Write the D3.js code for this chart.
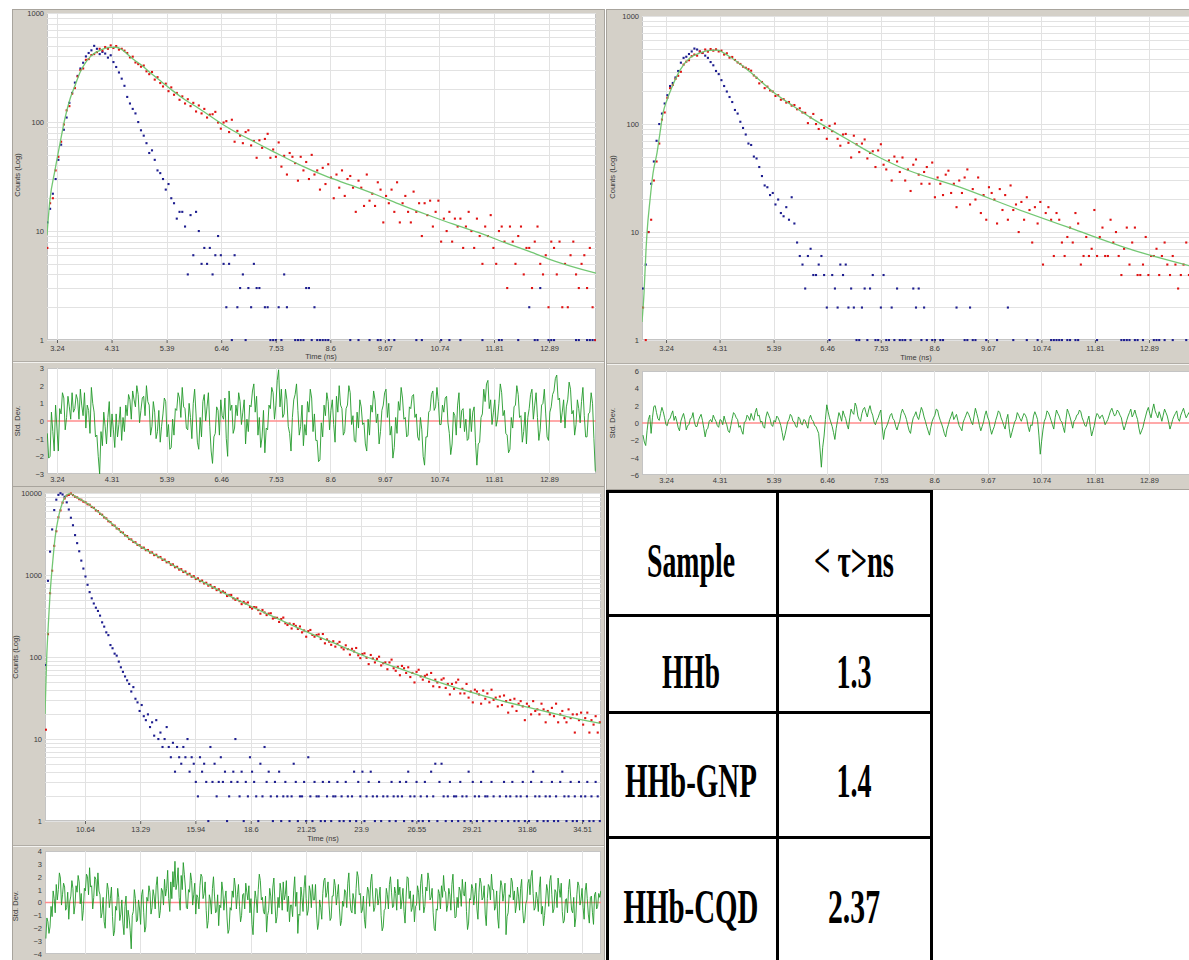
<!DOCTYPE html>
<html>
<head>
<meta charset="utf-8">
<script src="https://cdn.jsdelivr.net/npm/d3@7"></script>
<style>
  html, body { margin: 0; padding: 0; background: #ffffff; }
  svg { display: block; }
</style>
</head>
<body>
<svg id="fig" width="1189" height="960"></svg>
<script>
// ---------------- tick labels ----------------
const shortTicks = [3.24, 4.31, 5.39, 6.46, 7.53, 8.6, 9.67, 10.74, 11.81, 12.89];
const longTicks = [10.64, 13.29, 15.94, 18.6, 21.25, 23.9, 26.55, 29.21, 31.86, 34.51];
const decades3 = [1, 10, 100, 1000];
const decades4 = [1, 10, 100, 1000, 10000];
const resTicks3 = [-3, -2, -1, 0, 1, 2, 3];
const resTicks6 = [-6, -4, -2, 0, 2, 4, 6];
const resTicks4 = [-4, -3, -2, -1, 0, 1, 2, 3, 4];

// ---------------- HHb decay (channel start / width in ns) ----------------
const hhbT0 = 3.05, hhbDt = 0.054;
const hhbSample = [
  7, 18, 20, 36, 48, 66, 95, 128, 140, 182,
  205, 262, 300, 310, 372, 378, 412, 420, 438, 470,
  452, 488, 470, 505, 478, 498, 462, 470, 452, 430,
  392, 398, 352, 340, 322, 330, 292, 275, 288, 245,
  258, 228, 212, 225, 192, 208, 178, 185, 160, 172,
  148, 162, 140, 150, 125, 142, 120, 132, 110, 117,
  118, 124, 99, 87, 99, 102, 81, 105, 66, 83,
  75, 64, 81, 84, 61, 67, 47, 68, 58, 70,
  78, 47, 56, 48, 65, 39, 49, 33, 52, 48,
  42, 29, 48, 36, 43, 30, 50, 33, 36, 24,
  38, 27, 41, 31, 20, 33, 25, 36, 21, 30,
  32, 25, 15, 29, 25, 17, 33, 19, 22, 17,
  28, 24, 12, 21, 18, 24, 15, 28, 12, 18,
  21, 15, 12, 23, 15, 18, 9, 18, 14, 19,
  11, 15, 19, 8, 13, 10, 15, 8, 13, 11,
  13, 7, 11, 15, 10, 7, 13, 9, 5, 11,
  9, 14, 7, 5, 10, 11, 8, 3, 11, 8,
  5, 9, 11, 4, 7, 7, 3, 8, 11, 5,
  4, 6, 2, 8, 7, 4, 8, 2, 5, 2,
  6, 8, 4, 3, 5, 6, 3, 7, 2, 1
];
const hhbPrompt = [
  12, 16, 22, 30, 45, 62, 85, 110, 150, 185,
  230, 265, 310, 350, 400, 430, 455, 500, 470, 420,
  440, 425, 390, 410, 355, 320, 285, 250, 215, 170,
  148, 132, 120, 100, 84, 75, 64, 52, 55, 45,
  36, 34, 30, 24, 27, 20, 18, 13, 15, 15,
  11, 4, 14, 6, 15, 10, 5, 7, 5, 7,
  4, 6, 9, 6, 5, 2, 5, 1, 6, 2,
  3, 4, 1, 3, 2, 5, 3, 3, 0, 2,
  2, 1, 1, 1, 2, 1, 4, 2, 0, 0,
  1, 1, 1, 1, 3, 3, 1, 2, 1, 1,
  1, 1, 1, 0, 0, 0, 0, 0, 0, 0,
  1, 0, 0, 1, 0, 0, 0, 1, 0, 0,
  1, 1, 0, 0, 1, 0, 1, 0, 0, 0,
  0, 0, 0, 0, 1, 0, 1, 0, 0, 0,
  0, 0, 0, 1, 0, 0, 1, 0, 0, 0,
  1, 0, 0, 0, 0, 0, 0, 0, 1, 0,
  0, 0, 0, 0, 1, 1, 0, 0, 0, 0,
  0, 1, 0, 0, 0, 2, 0, 1, 1, 3,
  0, 0, 1, 1, 1, 0, 0, 0, 0, 0,
  0, 0, 1, 1, 0, 0, 1, 1, 1, 1
];
const hhbFitT = [3.044, 3.10, 3.20, 3.30, 3.40, 3.50, 3.60, 3.70, 3.80, 3.90, 4.00, 4.10, 4.20, 4.30, 4.40,
  4.50, 4.60, 4.75, 4.90, 5.10, 5.30, 5.50, 5.75, 6.00, 6.25, 6.50, 6.75, 7.00, 7.50, 8.00, 8.50,
  9.00, 9.50, 10.00, 10.50, 11.00, 11.50, 12.00, 12.50, 13.00, 13.81];
const hhbFitC = [9.2, 19, 36, 64, 110, 165, 220, 290, 350, 400, 435, 458, 475, 483, 485,
  465, 427, 372, 332, 275, 232, 195, 160, 135, 113, 94.5, 80.5, 70, 53, 40.5, 32,
  26.3, 21.5, 17.3, 14.1, 11.6, 9.7, 7.9, 6.5, 5.3, 4.1];
// weighted residuals, half-channel spacing
const hhbResT0 = 3.05, hhbResDt = 0.027;
const hhbResid = [
  -0.7, -2.1, -2.0, 0.5, -0.6, -1.7, 0.9, -0.4, -1.7, 0.7, 0.4, 1.6, 1.3, -0.5, 0.2, 1.4, 0.8, 0.1, 1.6, 0.5,
  0.7, 1.5, 1.2, 0.1, 1.8, 0.9, 0.3, 1.6, -0.4, 0.9, 0.6, -0.7, 1.9, 1.0, 0.5, -0.9, -0.8, -2.0, -3.0, -0.6,
  -1.4, 0.5, -0.3, -1.3, 0.2, 1.1, -0.9, 0.4, -0.5, -1.5, 0.4, -0.9, -0.2, 0.8, -1.1, 0.2, -0.6, 0.9, 0.3, 1.5,
  1.2, 0.1, 1.7, 1.2, 0.8, 2.0, 1.5, -0.1, 0.6, 1.3, 1.4, 0.3, 2.0, 1.1, 0.9, -0.8, -0.3, 1.1, 0.5, -1.0,
  -0.6, 0.6, -1.2, -0.3, 0.4, 1.3, 1.1, -0.9, -0.2, -1.6, -1.5, 0.1, -0.8, 0.7, 0.6, 1.6, 1.3, 0.2, 1.9, 0.8,
  0.7, -0.4, -0.5, 1.0, 0.2, -1.0, 1.0, 1.8, 0.4, -1.2, -1.6, 0.2, -0.9, 1.1, 1.5, 0.0, 0.8, 1.6, -0.3, -1.7,
  -2.4, -0.9, -0.7, 0.8, 0.6, -0.8, 1.2, 0.3, 0.1, 1.3, -1.0, -2.0, 1.7, 0.6, 0.9, -0.7, -0.4, 0.9, 0.3, 1.6,
  1.1, -0.2, 0.5, 1.2, -1.3, 0.1, -0.6, 0.9, 0.8, 1.7, 2.1, 0.5, 1.4, -0.8, 0.2, -1.5, -0.9, 0.6, -1.8, -0.4,
  -0.5, 0.9, 0.7, 1.9, 1.6, 0.1, 0.9, 2.3, 2.9, 0.8, 1.8, 0.2, 0.4, 1.8, 1.2, -0.3, -0.7, -1.7, 0.2, 1.2,
  1.5, 2.1, 0.6, -0.8, -0.3, 0.9, -1.4, -0.2, -0.8, 1.1, 0.5, 1.8, 1.3, -0.6, 0.4, -1.1, -1.1, -2.3, -2.2, -0.1,
  -0.9, 0.9, 0.3, 1.6, 1.1, -0.5, 0.6, 1.2, -0.2, -1.2, 1.4, 0.5, 2.0, 0.9, 0.7, -0.8, -0.6, 0.7, 0.9, 2.0,
  1.6, -0.2, 0.3, -1.1, -1.2, 0.5, -0.4, 1.2, 0.8, -0.2, -0.1, -1.3, -1.7, 0.1, -0.8, 0.9, 0.5, 1.7, 1.2, -0.1,
  0.4, -1.3, -0.6, 0.6, 0.9, 1.6, 1.8, 0.2, 1.0, -0.8, -0.3, -2.1, -1.5, 0.2, -0.7, 1.1, 0.6, 1.9, 1.3, 0.1,
  0.2, -0.9, -0.8, 0.8, 0.7, 1.4, 1.5, 0.2, 0.4, -0.9, -1.1, 0.2, -0.5, -2.0, -2.5, -0.9, -0.9, 0.5, 0.6, 1.5,
  1.7, 0.6, 0.8, 1.9, 1.1, -0.2, -0.2, 0.9, 0.5, 1.3, 1.4, -0.1, -0.7, -1.9, -1.3, 0.5, 0.3, -0.8, 0.9, 1.6,
  -0.4, 0.6, 0.7, -0.6, 0.1, -1.1, -1.0, 0.7, -0.6, 0.5, 0.8, -1.2, -2.5, -1.3, -1.2, 0.2, 0.4, 1.8, 1.1, 2.1,
  2.3, 0.7, 1.2, -0.2, 0.5, 1.2, -0.3, 0.1, 1.0, 2.1, 1.6, 0.3, 0.6, -0.7, -0.8, -1.8, -1.6, 0.2, -0.4, 0.8,
  0.9, 2.0, 1.5, 0.2, 0.3, -1.2, -0.6, 0.5, -1.3, 0.2, 0.7, 1.5, 1.8, 0.1, 0.9, 1.6, 0.2, -1.1, -0.5, 0.9,
  1.0, 1.8, 0.4, -0.9, -1.1, 0.5, 0.8, 1.5, 1.7, 2.4, 2.6, 1.2, 1.3, -0.1, 0.5, 1.2, -0.4, 0.8, 1.2, 2.2,
  1.8, 0.4, 0.6, -0.8, -0.2, 1.2, 0.7, -0.1, 1.1, 1.9, 0.3, -0.9, -0.9, 0.4, 0.5, 1.6, 1.0, -1.0, -2.8, -2.9
];

// ---------------- HHb-GNP decay ----------------
const gnpT0 = 2.78, gnpDt = 0.054;
const gnpSample = [
  2, 1, 10, 13, 30, 45, 66, 110, 128, 175,
  215, 230, 262, 280, 305, 355, 378, 390, 425, 440,
  430, 470, 455, 490, 468, 495, 478, 492, 470, 478,
  440, 452, 412, 418, 392, 372, 360, 340, 332, 322,
  312, 282, 268, 238, 245, 215, 222, 205, 200, 182,
  185, 168, 170, 158, 160, 148, 150, 137, 140, 128,
  127, 102, 115, 124, 100, 90, 109, 92, 73, 96,
  86, 101, 73, 63, 80, 81, 67, 49, 78, 65,
  55, 66, 72, 48, 54, 56, 40, 57, 65, 42,
  38, 46, 30, 50, 45, 36, 49, 30, 38, 24,
  42, 47, 34, 28, 36, 40, 28, 44, 21, 32,
  28, 22, 34, 37, 23, 28, 17, 30, 23, 32,
  38, 18, 25, 20, 32, 15, 22, 13, 26, 23,
  20, 12, 25, 16, 22, 13, 27, 16, 18, 10,
  19, 13, 21, 16, 8, 17, 12, 19, 5, 15,
  17, 13, 6, 15, 13, 8, 6, 9, 11, 8,
  15, 12, 5, 6, 9, 6, 7, 16, 6, 9,
  11, 6, 6, 13, 8, 10, 6, 4, 7, 11,
  5, 8, 11, 4, 4, 5, 9, 4, 6, 6,
  7, 4, 6, 8, 5, 4, 6, 5, 3, 4,
  5, 8, 4
];
const gnpPrompt = [
  3, 5, 10, 28, 45, 70, 100, 125, 155, 185,
  225, 240, 270, 310, 370, 410, 420, 445, 470, 500,
  490, 470, 455, 430, 410, 375, 350, 310, 290, 255,
  225, 200, 178, 160, 135, 125, 105, 92, 80, 66,
  64, 50, 48, 40, 33, 27, 26, 22, 23, 18,
  20, 15, 14, 17, 13, 21, 12, 8, 6, 5,
  3, 6, 7, 4, 4, 5, 6, 4, 2, 1,
  4, 3, 2, 5, 4, 5, 2, 3, 2, 1,
  1, 2, 3, 1, 3, 4, 1, 1, 2, 4,
  1, 1, 2, 1, 3, 1, 1, 1, 0, 1,
  3, 2, 3, 1, 2, 1, 0, 1, 1, 0,
  1, 1, 0, 0, 0, 0, 2, 0, 0, 1,
  1, 2, 1, 1, 0, 0, 0, 1, 0, 0,
  0, 1, 0, 0, 0, 2, 0, 1, 0, 0,
  0, 0, 1, 0, 0, 0, 1, 0, 0, 0,
  0, 1, 1, 1, 1, 1, 0, 1, 1, 0,
  1, 1, 0, 0, 0, 0, 0, 0, 1, 0,
  0, 0, 0, 0, 0, 0, 0, 1, 1, 1,
  1, 0, 1, 1, 0, 1, 0, 0, 0, 1,
  1, 1, 0, 1, 0, 0, 1, 0, 0, 0,
  0, 1, 0
];
const gnpFitT = [2.76, 2.80, 2.84, 2.86, 2.92, 2.98, 3.06, 3.12, 3.18, 3.26, 3.36, 3.52, 3.72, 3.92,
  4.12, 4.26, 4.46, 4.72, 5.06, 5.38, 5.78, 6.18, 6.58, 6.98, 7.38, 7.91, 9.11, 10.23, 11.41, 12.57, 13.83];
const gnpFitC = [1.47, 2.7, 6.8, 9.8, 19.8, 35, 54, 83, 126, 167, 220, 315, 410, 455,
  480, 483, 435, 359, 267, 198, 147, 111, 86, 67, 52.5, 40, 26, 16.5, 10.5, 6.8, 4.7];
const gnpResT0 = 2.78, gnpResDt = 0.027;
const gnpResid = [
  -1.4, -2.2, -2.6, -0.9, 0.4, 0.9, -1.2, 0.6, 1.9, 2.0, 1.2, 0.5, 0.3, 1.1, 1.8, 1.3, 0.6, -0.2, -0.3, 0.4,
  0.5, 1.0, 1.4, 0.3, 0.8, 0.2, -0.5, -0.9, 0.2, 0.7, 1.1, 0.4, -0.8, -0.3, -0.2, 0.5, 0.6, 1.2, 0.1, -0.4,
  -0.4, 0.3, 0.7, 1.0, 0.3, -0.6, -1.6, -0.8, -0.6, 0.2, 0.4, 0.1, 0.9, 0.5, 0.2, -0.3, -0.5, 0.4, 0.3, -0.2,
  0.8, 0.2, -0.2, -0.9, -1.1, -0.3, 0.5, 1.2, 1.0, 0.6, 0.4, -0.5, -0.3, -0.9, -1.3, 0.1, 0.2, 0.9, 0.7, 0.3,
  1.1, 0.6, 0.3, 1.2, 1.7, 0.8, 0.9, 0.1, 0.2, -0.4, -0.6, 0.7, 1.3, 0.9, 0.5, -0.2, -0.4, 0.3, 0.1, 0.8,
  0.6, 0.2, -0.3, -1.1, -2.0, -1.4, -0.7, 0.1, 0.4, 1.0, 0.8, 0.2, 0.1, -0.4, -0.5, 0.7, 0.5, -0.1, -0.2, 0.4,
  0.3, -0.2, -0.6, 0.5, 0.9, 0.4, 0.2, -0.3, -0.4, -0.8, -1.2, -3.0, -5.1, -2.8, -1.5, 0.4, 2.1, 1.3, 0.6, 0.1,
  -0.4, -1.1, -1.9, -0.6, 0.3, 1.2, 0.8, 0.2, 1.4, 0.9, 0.5, -0.2, -0.7, 0.6, 1.6, 1.2, 1.0, 2.3, 1.9, 0.8,
  0.4, 0.2, 1.1, 1.6, 1.8, 1.2, 0.7, 1.5, 2.0, 1.3, 0.9, 0.1, -0.2, 0.3, 0.6, 1.1, 1.5, -0.4, -1.9, -0.8,
  -0.5, -0.1, 0.4, 0.9, 1.1, 0.5, 0.3, -0.4, -0.8, -0.2, 0.2, 1.1, 1.6, 1.2, 0.9, 0.4, -0.3, -0.9, -1.2, -0.1,
  0.6, 0.9, 1.3, 0.7, 0.4, 1.1, 1.8, 1.4, 0.7, 0.2, -0.4, -0.9, -1.4, -0.5, 0.2, 0.6, 0.9, 1.6, 1.5, 0.8,
  0.3, -0.1, -0.6, -1.2, -1.6, -0.7, -0.2, 0.4, 0.8, 1.3, 0.4, 0.7, 1.0, 0.3, -0.3, -0.6, -0.9, 0.1, 0.5, 0.9,
  1.3, 1.0, 0.6, 0.1, -0.2, 0.8, 1.7, 1.1, 0.5, -0.3, -0.9, -0.4, 0.1, 0.9, 1.4, 0.7, 0.3, -0.6, -1.3, -0.8,
  -0.4, 0.3, 0.8, 1.4, 1.2, 0.6, 0.2, -0.3, -0.7, 0.4, 1.0, -0.6, -1.7, -1.1, -0.5, 0.1, 0.4, 1.2, 0.9, 0.5,
  0.2, 0.7, 1.1, 0.9, 0.5, -0.4, -1.0, -0.2, -0.3, 0.8, 1.3, 0.9, 0.4, -1.4, -3.6, -2.1, -0.8, 0.2, 0.6, 1.4,
  1.2, 0.8, 0.3, -0.2, -0.7, 0.6, 1.5, 1.1, 0.8, 0.3, 0.1, -0.5, -1.1, 0.4, 1.6, 1.2, 0.7, 0.1, -0.6, 0.2,
  0.4, 0.9, 1.0, 1.5, 1.3, 0.6, 0.2, -0.3, -0.4, 0.3, 0.8, -0.4, -1.5, -0.9, -0.3, 0.6, 1.1, 0.9, 0.5, 0.8,
  0.9, 0.4, -0.2, 0.1, 0.4, 0.9, 1.4, 1.7, 1.2, 0.8, 1.0, 1.5, 1.3, 0.9, 0.6, -0.2, -0.8, -0.3, 0.3, 0.8,
  1.2, 1.6, 0.7, 1.0, 1.5, 0.9, 0.4, -0.6, -1.3, -0.9, -0.5, 0.2, 0.8, 1.4, 1.8, 1.1, 0.6, 1.5, 2.2, 1.4,
  1.0, 0.6, 1.3, 0.8, 0.2, 0.9, 1.6, 1.2, 0.8, 0.1, -0.7, -0.2, 0.4, 0.8, 1.1, 1.4, 0.5, 0.2, 0.9, 1.3,
  1.7, 1.1, 0.6, 0.9, 1.2, 0.7
];

// ---------------- HHb-CQD decay ----------------
const cqdT0 = 8.76, cqdDt = 0.1;
const cqdSample = [
  13, 190, 600, 1130, 2270, 3420, 5060, 6150, 7630, 8590,
  9300, 9480, 9870, 9440, 9020, 8850, 8410, 8290, 7850, 7720,
  7300, 7210, 6760, 6590, 6140, 6010, 5580, 5440, 5040, 4910,
  4530, 4430, 4090, 4010, 3700, 3630, 3350, 3290, 3040, 2990,
  2750, 2720, 2530, 2510, 2330, 2310, 2150, 2160, 2010, 2020,
  1880, 1890, 1750, 1770, 1650, 1660, 1530, 1545, 1430, 1440,
  1335, 1350, 1245, 1260, 1165, 1180, 1090, 1105, 1020, 1035,
  955, 970, 895, 912, 842, 856, 790, 805, 742, 758,
  698, 713, 655, 671, 615, 632, 608, 555, 567, 572,
  520, 498, 518, 481, 442, 471, 449, 463, 408, 390,
  407, 404, 374, 338, 375, 350, 325, 339, 342, 295,
  302, 301, 268, 291, 303, 258, 246, 256, 223, 253,
  240, 220, 236, 200, 211, 177, 207, 214, 186, 177,
  186, 189, 166, 191, 147, 164, 154, 141,
  156, 134, 145, 153, 131, 124, 139, 125, 107, 126,
  117, 129, 105, 97, 109, 111, 98, 82, 106, 96,
  86, 95, 101, 79, 84, 86, 71, 86, 93, 73,
  68, 76, 60, 78, 73, 64, 75, 57, 64, 49,
  66, 70, 58, 53, 59, 61, 50, 64, 44, 53,
  49, 43, 53, 55, 42, 47, 35, 47, 41, 49,
  53, 36, 41, 36, 47, 32, 38, 28, 40, 38,
  35, 27, 39, 31, 36, 28, 40, 30, 32, 25,
  33, 26, 34, 29, 21, 30, 25, 31, 22, 27,
  29, 25, 17, 27, 25, 20, 29, 22, 23, 20,
  27, 23, 16, 22, 20, 24, 19, 27, 16, 20,
  22, 18, 16, 23, 18, 20, 12, 20, 17, 21,
  15, 18, 21, 12, 17, 15, 19, 12, 16
];
const cqdPrompt = [
  80, 850, 1930, 3600, 6200, 8300, 9500, 9950, 9600, 9000,
  7700, 6300, 5000, 4050, 3070, 2450, 1950, 1500, 1200, 960,
  760, 620, 520, 450, 400, 365, 320, 265, 235, 200,
  185, 140, 128, 110, 104, 88, 75, 66, 58, 52,
  47, 38, 43, 31, 28, 22, 26, 19, 17, 20,
  14, 16, 11, 17, 10, 12, 8, 10, 14, 8,
  6, 9, 4, 8, 6, 5, 8, 6, 10, 4,
  6, 5, 3, 2, 6, 4, 5, 3, 1, 8,
  3, 5, 2, 3, 6, 3, 4, 1, 2, 3,
  4, 10, 3, 2, 4, 1, 3, 2, 6, 4,
  3, 2, 1, 5, 2, 8, 3, 4, 2, 1,
  3, 2, 4, 1, 2, 3, 2, 1, 2, 5,
  3, 1, 2, 2, 3, 1, 6, 2, 1, 3,
  2, 2, 1, 3, 1, 2, 3, 1, 2, 2,
  3, 1, 2, 1, 3, 2, 1, 2, 4, 1,
  3, 2, 4, 1, 2, 3, 4, 2, 1, 2,
  3, 1, 2, 0, 2, 1, 3, 2, 1, 2,
  3, 2, 1, 3, 4, 2, 1, 2, 3, 1,
  2, 1, 3, 2, 1, 4, 2, 5, 1, 3,
  5, 2, 1, 2, 3, 1, 2, 2, 1, 3,
  2, 1, 2, 4, 1, 3, 2, 1, 2, 3,
  1, 2, 2, 1, 3, 2, 1, 0, 2, 1,
  3, 2, 1, 2, 3, 1, 2, 1, 2, 3,
  1, 2, 1, 3, 4, 2, 1, 2, 3, 1,
  2, 1, 2, 3, 1, 2, 1, 3, 4, 2,
  1, 2, 3, 1, 2, 1, 3, 2, 1, 2,
  3, 1, 2, 1, 3, 2, 1
];
const cqdFitT = [8.719, 8.80, 8.877, 8.959, 9.089, 9.199, 9.358, 9.521, 9.679, 9.92, 10.16, 10.88, 11.36,
  12.16, 12.80, 13.28, 14.08, 14.88, 15.68, 16.48, 17.28, 18.08, 18.89, 19.68, 20.49, 21.29, 22.55,
  24.17, 25.77, 27.37, 28.97, 30.57, 32.17, 33.78, 35.4];
const cqdFitC = [20, 97, 245, 570, 1440, 2800, 4970, 7140, 8900, 9800, 9100, 7100, 5650,
  3750, 2750, 2250, 1720, 1310, 1000, 780, 610, 480, 385, 310, 250, 203, 150,
  100, 72, 52, 38.5, 29.5, 23.5, 18.8, 15.5];
const cqdResT0 = 8.76, cqdResDt = 0.05;
const cqdResid = [
  -2.8, -1.2, -1.5, -2.4, -1.9, -0.3, -1.1, 0.9, 0.3, -0.8, 1.4, 0.2, 1.0, 2.3, 1.9, -0.2, 0.6, 1.5, 1.2, -0.6,
  -0.4, 0.8, -1.3, 0.1, 0.5, 1.7, 1.1, -0.9, -0.2, 1.3, 0.8, 2.1, 1.6, -0.1, 0.7, -1.4, -0.6, 1.1, 0.9, 2.2,
  2.0, 0.6, 2.7, 1.2, 1.3, -0.5, 0.4, 2.0, 1.8, 0.5, 2.3, 0.9, 0.6, -1.2, -0.8, 0.4, -1.5, -2.0, 0.2, 1.5,
  1.0, -0.4, 0.3, 1.2, -1.1, -2.6, -2.2, -0.3, -0.6, 1.1, 0.4, -1.4, -0.9, 0.2, -1.6, -2.5, -0.3, 0.5, -2.0, -0.6,
  -1.2, -2.2, -3.6, -1.0, -0.7, 1.0, 0.3, -1.5, -1.4, 0.2, -0.5, -1.7, 0.6, 1.0, -0.8, -2.3, -1.9, 0.4, 0.1, 1.3,
  0.8, -0.9, -0.4, 1.0, 0.5, -0.5, 1.3, 2.0, 0.2, -1.2, -0.6, 1.1, 0.9, -0.2, 1.8, 0.5, 1.1, 2.5, 0.3, -0.7,
  1.6, 0.3, 2.4, 1.2, 3.2, 1.0, 1.5, 2.7, 0.4, -0.6, 2.1, 1.0, 3.1, 2.2, 1.2, -0.4, -0.5, 1.0, 0.8, 2.3,
  1.7, -0.2, 0.6, 1.5, -0.9, 0.6, 0.4, -0.5, 1.3, 2.2, 2.0, 0.3, 0.7, 1.6, -0.6, -2.0, -1.4, 0.6, 0.2, -0.9,
  1.1, 2.0, 0.5, -0.8, -0.7, 0.6, -1.8, -0.2, -0.4, 1.6, 0.9, -0.6, 0.3, 0.9, -1.2, -2.4, -2.1, -0.4, -0.6, 0.9,
  0.4, 1.9, 1.2, -0.5, 0.6, 1.4, -0.3, -1.5, -1.0, 0.6, 0.7, -0.5, 1.5, 0.8, 0.2, 1.3, -0.8, 0.3, -1.7, -2.5,
  -0.5, 0.9, 0.3, -0.8, 1.0, 2.2, 1.7, 0.2, 0.4, -0.7, -0.9, 0.5, -2.3, -1.0, -0.6, 1.1, 0.5, -0.9, 1.2, 1.9,
  0.1, -1.6, -1.1, 0.4, -0.4, 1.5, 0.8, -0.6, 1.6, 0.2, 0.6, 1.7, -0.7, 0.5, -1.5, -0.2, -0.2, -1.1, 0.9, 2.0,
  -0.3, 0.8, -2.4, -0.9, -1.0, 1.2, 0.4, -0.7, 1.1, 2.1, 0.3, -1.0, -0.6, 1.3, 0.9, -0.4, 1.4, 0.2, 0.2, 1.4,
  -0.9, -2.1, -1.6, 0.2, -0.4, -1.3, 0.7, 1.7, 1.9, 0.4, 0.8, 1.6, -0.2, -1.4, -1.2, 0.5, 0.5, 1.8, 1.3, -0.2,
  0.6, 1.4, -0.5, -1.8, -1.4, 0.1, -0.3, 1.0, 0.8, -0.4, 1.5, 2.3, 0.4, -0.6, -0.8, 0.7, 0.2, -0.9, 1.1, 2.4,
  2.0, 0.6, 0.7, -0.8, -0.6, 0.5, -1.3, -2.0, 0.1, 1.2, 0.9, -0.3, 1.6, 2.2, 0.5, -0.7, -0.4, 1.1, 1.0, -0.2,
  0.3, 1.2, -1.0, -2.2, -1.9, -0.6, -0.5, 1.1, 0.6, -0.5, 1.4, 2.0, 0.8, -0.4, -0.3, 1.2, 0.7, -0.6, 1.8, 0.6,
  1.2, -0.5, 0.2, 1.1, -0.7, -1.6, 0.5, 2.0, 1.9, 0.3, 0.9, -0.7, -0.4, 0.6, -1.5, -0.3, -0.2, 1.3, 0.8, -0.6,
  1.5, 2.2, 0.6, -0.8, -0.3, 1.2, 0.9, 2.3, 1.7, 0.2, 0.4, 1.1, -0.8, -2.0, -2.2, -0.5, -0.6, 1.0, 0.7, -0.5,
  1.3, 0.4, 2.1, 0.9, 0.8, -0.7, -0.2, 1.1, 0.6, -0.6, 1.4, 2.2, 0.3, -1.2, -1.1, 0.4, -0.4, 1.2, 0.9, -0.3,
  1.8, 0.7, 0.5, 1.6, -0.7, -2.1, -1.6, 0.3, 0.2, 1.4, 1.1, -0.2, 0.6, 1.5, -0.5, -1.3, 0.8, 1.9, 1.5, 0.2,
  0.4, 1.3, -0.9, -1.8, 0.3, 1.4, 1.2, 0.2, 2.2, 1.0, 1.0, -0.6, -0.3, 0.9, -1.2, -2.0, 0.6, 1.7, 1.3, 0.1,
  0.7, 1.5, -2.5, -1.1, -0.8, 0.6, 0.4, 1.9, 1.6, 0.2, 0.9, -0.8, -0.2, 1.2, 0.5, -0.6, 1.1, 1.8, -0.6, -1.6,
  -1.3, -0.1, 0.2, 1.5, 1.8, 0.6, 2.0, 2.5, 0.7, -0.6, -0.4, 0.8, 0.3, -0.7, 1.2, 2.0, -0.9, -0.3, -1.8, -1.0,
  0.1, 1.4, 0.9, -0.3, 1.7, 2.1, 0.6, -0.8, -0.5, 1.0, 0.8, -0.4, 1.9, 1.1, 0.4, 1.5, -0.7, -1.6, -1.4, 0.2,
  0.3, -0.8, 1.0, 1.8, 0.5, -0.6, -0.8, 0.4, -1.9, -1.2, 0.6, 1.6, 1.3, -0.2, 0.2, 1.1, -0.4, -1.3, 0.9, 1.5,
  0.3, -0.9, -1.6, 0.4, 0.5, -0.8, -1.7, 0.6, 0.8, -0.5, -0.3, 0.7, 0.4, 0.9
];

// ---------------- lifetime table ----------------
const tableHeader = ["Sample", "< \u03c4>ns"];
const sampleNames = ["HHb", "HHb-GNP", "HHb-CQD"];
const avgLifetimes = [1.3, 1.4, 2.37];

// =====================================================================
const svg = d3.select("#fig");
const defs = svg.append("defs");

const FRAME = "#d4d0c8", FRAME_EDGE = "#a8a49d";
const GRID = "#e2e2e2";
const RED = "#e01212", BLUE = "#1d1d8f", FIT = "#6cc46c", RESID = "#239a2a", ZERO = "#ff8d8d";
const UI_FONT = '"Liberation Sans", Arial, sans-serif';
const TXT = "#3a3a3a";

function frame(x, y, w, h) {
  svg.append("rect")
    .attr("x", x + 0.5).attr("y", y + 0.5).attr("width", w).attr("height", h)
    .attr("fill", FRAME).attr("stroke", FRAME_EDGE);
}

function separator(x0, x1, y) {
  svg.append("line").attr("x1", x0).attr("x2", x1).attr("y1", y + 0.5).attr("y2", y + 0.5)
    .attr("stroke", "#b1ada6");
  svg.append("line").attr("x1", x0).attr("x2", x1).attr("y1", y + 1.5).attr("y2", y + 1.5)
    .attr("stroke", "#f3f2ef");
}

function plotArea(g, x0, y0, x1, y1, id) {
  defs.append("clipPath").attr("id", id).append("rect")
    .attr("x", x0).attr("y", y0 - 2).attr("width", x1 - x0).attr("height", y1 - y0 + 4);
  g.append("rect")
    .attr("x", x0 + 0.5).attr("y", y0 + 0.5).attr("width", x1 - x0 - 1).attr("height", y1 - y0 - 1)
    .attr("fill", "#ffffff").attr("stroke", "#c4c4c4");
}

function styleAxis(sel) {
  sel.attr("font-family", UI_FONT).attr("font-size", 7.5);
  sel.select(".domain").remove();
  sel.selectAll("text").attr("fill", TXT);
  sel.selectAll("line").attr("stroke", "#606060");
}

function channels(arr, t0, dt) {
  return arr.map((c, i) => ({ t: t0 + i * dt, c: c }));
}

function decayPanel(p) {
  const g = svg.append("g");
  const x = d3.scaleLinear().domain(p.tDomain).range([p.left, p.right]);
  const y = d3.scaleLog().domain(p.cDomain).range([p.bottom, p.top]);
  const yr = d3.scaleLinear().domain(p.rDomain).range([p.rBottom, p.rTop]);
  const mainId = p.id + "-main", resId = p.id + "-res";

  plotArea(g, p.left, p.top, p.right, p.bottom, mainId);
  plotArea(g, p.left, p.rTop, p.right, p.rBottom, resId);

  // ---- main decay plot ----
  const gm = g.append("g").attr("clip-path", `url(#${mainId})`);
  gm.selectAll("line.hgrid").data(y.ticks()).join("line").attr("class", "hgrid")
    .attr("x1", p.left).attr("x2", p.right)
    .attr("y1", d => Math.round(y(d)) + 0.5).attr("y2", d => Math.round(y(d)) + 0.5)
    .attr("stroke", GRID);
  gm.selectAll("line.vgrid").data(p.xTicks).join("line").attr("class", "vgrid")
    .attr("x1", d => Math.round(x(d)) + 0.5).attr("x2", d => Math.round(x(d)) + 0.5)
    .attr("y1", p.top).attr("y2", p.bottom)
    .attr("stroke", GRID);

  gm.append("g").selectAll("rect")
    .data(channels(p.prompt, p.t0, p.dt).filter(d => d.c > 0)).join("rect")
    .attr("x", d => x(d.t) - 1).attr("y", d => y(d.c) - 1)
    .attr("width", 2.1).attr("height", 2.1).attr("fill", BLUE);

  gm.append("g").selectAll("rect")
    .data(channels(p.sample, p.t0, p.dt).filter(d => d.c > 0)).join("rect")
    .attr("x", d => x(d.t) - 1).attr("y", d => y(d.c) - 1)
    .attr("width", 2.1).attr("height", 2.1).attr("fill", RED);

  const fitLine = d3.line().curve(d3.curveMonotoneX)
    .x(d => x(d[0])).y(d => y(d[1]));
  gm.append("path")
    .attr("d", fitLine(p.fitT.map((t, i) => [t, p.fitC[i]])))
    .attr("fill", "none").attr("stroke", FIT).attr("stroke-width", 1.3).attr("opacity", 0.95);

  const ax = g.append("g").attr("transform", `translate(0,${p.bottom})`)
    .call(d3.axisBottom(x).tickValues(p.xTicks).tickFormat(d => String(d)).tickSize(3).tickPadding(3));
  styleAxis(ax);
  const ay = g.append("g").attr("transform", `translate(${p.left},0)`)
    .call(d3.axisLeft(y).tickValues(p.decades).tickFormat(d3.format("d")).tickSize(0).tickPadding(3));
  styleAxis(ay);

  g.append("text").attr("x", p.timeX).attr("y", p.timeY)
    .attr("text-anchor", "middle").attr("dominant-baseline", "middle")
    .attr("font-family", UI_FONT).attr("font-size", 7.5).attr("fill", TXT).text("Time (ns)");
  g.append("text")
    .attr("transform", `translate(${p.titleX},${p.countsY}) rotate(-90)`)
    .attr("text-anchor", "middle").attr("dominant-baseline", "middle")
    .attr("font-family", UI_FONT).attr("font-size", 7.5).attr("fill", TXT).text("Counts (Log)");

  // ---- weighted residuals ----
  const gr = g.append("g").attr("clip-path", `url(#${resId})`);
  gr.selectAll("line.vgrid").data(p.xTicks).join("line").attr("class", "vgrid")
    .attr("x1", d => Math.round(x(d)) + 0.5).attr("x2", d => Math.round(x(d)) + 0.5)
    .attr("y1", p.rTop).attr("y2", p.rBottom)
    .attr("stroke", GRID);
  gr.append("line")
    .attr("x1", p.left).attr("x2", p.right)
    .attr("y1", yr(0)).attr("y2", yr(0))
    .attr("stroke", ZERO).attr("stroke-width", 1.4);
  const resLine = d3.line().x(d => x(d.t)).y(d => yr(d.c));
  gr.append("path")
    .attr("d", resLine(channels(p.resid, p.rT0, p.rDt)))
    .attr("fill", "none").attr("stroke", RESID).attr("stroke-width", 0.9);

  if (p.residTimeLabels) {
    const rx = g.append("g").attr("transform", `translate(0,${p.rBottom})`)
      .call(d3.axisBottom(x).tickValues(p.xTicks).tickFormat(d => String(d)).tickSize(0).tickPadding(3));
    styleAxis(rx);
  }
  const ry = g.append("g").attr("transform", `translate(${p.left},0)`)
    .call(d3.axisLeft(yr).tickValues(p.rTicks).tickFormat(d3.format("d")).tickSize(0).tickPadding(3));
  styleAxis(ry);

  g.append("text")
    .attr("transform", `translate(${p.titleX},${p.stdY}) rotate(-90)`)
    .attr("text-anchor", "middle").attr("dominant-baseline", "middle")
    .attr("font-family", UI_FONT).attr("font-size", 7.5).attr("fill", TXT).text("Std. Dev.");
}

// ---- window frames ----
frame(12, 9, 592, 478);
frame(606, 9, 590, 480);
frame(12, 486, 592, 480);
separator(13, 604, 361);
separator(607, 1189, 363);
separator(13, 604, 845);

// ---- HHb ----
decayPanel({
  id: "hhb",
  left: 47, right: 596, top: 13, bottom: 340,
  rTop: 368, rBottom: 474,
  tDomain: [3.044, 13.81], cDomain: [1, 1000], rDomain: [-3, 3],
  xTicks: shortTicks, decades: decades3, rTicks: resTicks3,
  t0: hhbT0, dt: hhbDt, rT0: hhbResT0, rDt: hhbResDt,
  sample: hhbSample, prompt: hhbPrompt, fitT: hhbFitT, fitC: hhbFitC, resid: hhbResid,
  residTimeLabels: true,
  timeX: 321, timeY: 357, titleX: 18, countsY: 175, stdY: 421
});

// ---- HHb-GNP ----
decayPanel({
  id: "gnp",
  left: 642, right: 1196, top: 16, bottom: 340,
  rTop: 371, rBottom: 475,
  tDomain: [2.76, 13.83], cDomain: [1, 1000], rDomain: [-6, 6],
  xTicks: shortTicks, decades: decades3, rTicks: resTicks6,
  t0: gnpT0, dt: gnpDt, rT0: gnpResT0, rDt: gnpResDt,
  sample: gnpSample, prompt: gnpPrompt, fitT: gnpFitT, fitC: gnpFitC, resid: gnpResid,
  residTimeLabels: true,
  timeX: 916, timeY: 358, titleX: 613, countsY: 177, stdY: 423
});

// ---- HHb-CQD (residual time axis falls below the page) ----
decayPanel({
  id: "cqd",
  left: 45, right: 601, top: 493, bottom: 821,
  rTop: 851, rBottom: 954,
  tDomain: [8.719, 35.42], cDomain: [1, 10000], rDomain: [-4, 4],
  xTicks: longTicks, decades: decades4, rTicks: resTicks4,
  t0: cqdT0, dt: cqdDt, rT0: cqdResT0, rDt: cqdResDt,
  sample: cqdSample, prompt: cqdPrompt, fitT: cqdFitT, fitC: cqdFitC, resid: cqdResid,
  residTimeLabels: false,
  timeX: 323, timeY: 839, titleX: 16, countsY: 657, stdY: 906
});

// ---- average lifetime table ----
const tbl = svg.append("g");
tbl.append("rect").attr("x", 607.5).attr("y", 491.5).attr("width", 324).attr("height", 480)
  .attr("fill", "#ffffff");
const rowLines = [615.5, 712.5, 837.5];
tbl.selectAll("line.row").data(rowLines).join("line").attr("class", "row")
  .attr("x1", 606).attr("x2", 933).attr("y1", d => d).attr("y2", d => d)
  .attr("stroke", "#000").attr("stroke-width", 3);
[[606, 491.5, 933, 491.5], [607.5, 490, 607.5, 962], [931.5, 490, 931.5, 962], [777.5, 490, 777.5, 962]]
  .forEach(s => tbl.append("line")
    .attr("x1", s[0]).attr("y1", s[1]).attr("x2", s[2]).attr("y2", s[3])
    .attr("stroke", "#000").attr("stroke-width", 3));

// condensed bold serif lettering: each cell is squeezed horizontally to its column width
const colX = [691, 854];
const rowBase = [577, 688, 797, 923];
const textWidth = { "Sample": 88, "< \u03c4>ns": 80, "HHb": 58, "HHb-GNP": 132, "HHb-CQD": 135,
  "1.3": 35, "1.4": 35, "2.37": 52 };
const cells = [];
tableHeader.forEach((h, j) => cells.push({ text: h, col: j, row: 0 }));
sampleNames.forEach((s, i) => {
  cells.push({ text: s, col: 0, row: i + 1 });
  cells.push({ text: String(avgLifetimes[i]), col: 1, row: i + 1 });
});
tbl.selectAll("text.cell").data(cells).join("text").attr("class", "cell")
  .attr("x", 0).attr("y", 0)
  .attr("text-anchor", "middle")
  .attr("font-family", '"Liberation Serif", "Times New Roman", serif')
  .attr("font-weight", "bold").attr("font-size", 48).attr("fill", "#000")
  .text(d => d.text)
  .attr("transform", function (d) {
    const natural = this.getComputedTextLength();
    const sx = textWidth[d.text] / natural;
    return `translate(${colX[d.col]},${rowBase[d.row]}) scale(${sx.toFixed(4)},1)`;
  });
</script>
</body>
</html>
